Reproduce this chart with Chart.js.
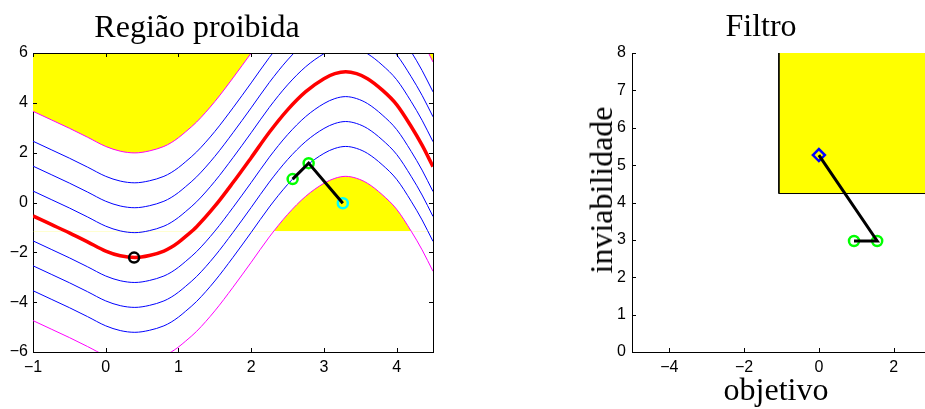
<!DOCTYPE html>
<html lang="pt-br">
<head>
<meta charset="UTF-8">
<title>Região proibida / Filtro</title>
<script src="https://cdn.jsdelivr.net/npm/chart.js"></script>
<style>
    html, body { margin: 0; padding: 0; background: #fff; overflow: hidden; }
    body { width: 925px; height: 409px; position: relative; }
    canvas { position: absolute; top: 0; }
    #esq { left: 0; }
    #dir { left: 560px; }
    .rot {
        position: absolute;
        font-family: 'Liberation Serif', 'Times New Roman', serif;
        font-size: 32px;
        line-height: 32px;
        color: #000;
        white-space: nowrap;
        transform: translateX(-50%);
    }
    #ylab { transform: translate(-50%, -50%) rotate(-90deg); }
</style>
</head>
<body>

<canvas id="esq" width="450" height="409"></canvas>
<canvas id="dir" width="380" height="409"></canvas>

<div class="rot" style="left:197px; top:10px;">Região proibida</div>
<div class="rot" style="left:761px; top:9px;">Filtro</div>
<div class="rot" style="left:776px; top:373px;">objetivo</div>
<div class="rot" id="ylab" style="left:601px; top:190px;">inviabilidade</div>

<script>
// curva central (vermelha)
const curveX = [-1.0, -0.75, -0.5, -0.25, 0.0, 0.2, 0.4, 0.6, 0.8, 0.9, 1.0, 1.1, 1.25, 1.5, 1.75,
                2.0, 2.25, 2.5, 2.75, 3.0, 3.15, 3.3, 3.45, 3.6, 3.8, 4.0, 4.2, 4.35, 4.5];
const curveY = [-0.54, -0.88, -1.22, -1.58, -1.95, -2.14, -2.21, -2.13, -1.95, -1.80, -1.60, -1.36, -0.97, -0.15, 0.80,
                1.80, 2.82, 3.72, 4.45, 4.97, 5.17, 5.25, 5.17, 4.97, 4.52, 3.93, 3.05, 2.30, 1.44];
// deslocamentos verticais das curvas azuis e das fronteiras (magenta)
const blueOffsets = [-3, -2, -1, 1, 2, 3];
const boundOffset = 4.2;
const floorLevel = -1.15;          // base da regiao amarela de baixo

// pontos da esquerda
const pathLeft = [[2.57, 0.94], [2.79, 1.58], [3.26, -0.03]];
const greenLeft = [[2.57, 0.94], [2.79, 1.58]];
const cyanLeft = [[3.26, -0.03]];
const blackLeft = [[0.39, -2.21]];

// filtro (direita)
const filterCorner = [-1.07, 4.24];
const diamondPt = [[0, 5.27]];
const greenRight = [[0.94, 2.97], [1.56, 2.97]];
const pathRight = [[0, 5.27], [1.56, 2.97], [0.94, 2.97]];
const filterXTicks = [-4, -2, 0, 2];

const pts = arr => arr.map(p => ({ x: p[0], y: p[1] }));
const shifted = off => curveX.map((x, i) => ({ x: x, y: curveY[i] + off }));

const tickFont = { family: 'Liberation Sans', size: 16 };
const fmt = v => String(v).replace('-', '\u2212');

// ticks para dentro + caixa
const inTicks = {
    id: 'inTicks',
    afterDraw(chart, args, opts) {
        const { ctx, chartArea: a, scales: { x, y } } = chart;
        const L = 4;
        ctx.save();
        ctx.strokeStyle = '#000';
        ctx.lineWidth = 1;
        ctx.beginPath();
        x.ticks.forEach(t => {
            const px = Math.round(x.getPixelForValue(t.value)) + 0.5;
            ctx.moveTo(px, a.bottom); ctx.lineTo(px, a.bottom - L);
            if (opts.box) { ctx.moveTo(px, a.top); ctx.lineTo(px, a.top + L); }
        });
        y.ticks.forEach(t => {
            const py = Math.round(y.getPixelForValue(t.value)) + 0.5;
            ctx.moveTo(a.left, py); ctx.lineTo(a.left + L, py);
            if (opts.box) { ctx.moveTo(a.right, py); ctx.lineTo(a.right - L, py); }
        });
        if (opts.box) {
            ctx.moveTo(a.left, Math.round(a.top) + 0.5); ctx.lineTo(a.right, Math.round(a.top) + 0.5);
            ctx.moveTo(Math.round(a.right) + 0.5, a.top); ctx.lineTo(Math.round(a.right) + 0.5, a.bottom);
        }
        ctx.stroke();
        ctx.restore();
    }
};

function marker(data, color, style, r) {
    return {
        data: pts(data), showLine: false, pointStyle: style,
        pointRadius: r, pointBorderColor: color, pointBackgroundColor: 'rgba(0,0,0,0)',
        pointBorderWidth: 2.5
    };
}

function curve(off, color, width, fill) {
    return {
        data: shifted(off), borderColor: color, borderWidth: width, pointRadius: 0,
        cubicInterpolationMode: 'monotone', fill: fill || false, backgroundColor: '#ffff00'
    };
}

// ----- grafico da esquerda -----
const leftSets = [
    { data: pts(pathLeft), borderColor: '#000', borderWidth: 3, pointRadius: 0 },
    marker(blackLeft, '#000', 'circle', 5),
    marker(greenLeft, '#00ff00', 'circle', 5),
    marker(cyanLeft, '#00ffff', 'circle', 5),
    curve(0, '#ff0000', 3.5)
];
blueOffsets.forEach(o => leftSets.push(curve(o, '#0000ff', 1)));
leftSets.push(curve(boundOffset, '#ff00ff', 1, 'end'));
leftSets.push(curve(-boundOffset, '#ff00ff', 1,
    { target: { value: floorLevel }, above: '#ffff00', below: 'rgba(0,0,0,0)' }));

new Chart(document.getElementById('esq'), {
    type: 'line',
    data: { datasets: leftSets },
    options: {
        responsive: false, animation: false, events: [],
        layout: { padding: { top: 53, right: 17, left: 0, bottom: 0 } },
        plugins: { legend: { display: false }, tooltip: { enabled: false },
                   filler: { drawTime: 'beforeDatasetsDraw' }, inTicks: { box: true } },
        scales: {
            x: {
                type: 'linear', min: -1, max: 4.5,
                ticks: { stepSize: 1, includeBounds: false, padding: 6, font: tickFont, color: '#000',
                         maxRotation: 0, callback: fmt },
                grid: { drawOnChartArea: false, drawTicks: false },
                border: { color: '#000', width: 1 },
                afterFit: s => { s.height = 57; }
            },
            y: {
                min: -6, max: 6,
                ticks: { stepSize: 2, includeBounds: false, padding: 5, font: tickFont, color: '#000', callback: fmt },
                grid: { drawOnChartArea: false, drawTicks: false },
                border: { color: '#000', width: 1 },
                afterFit: s => { s.width = 33; }
            }
        }
    },
    plugins: [inTicks]
});

// ----- grafico da direita -----
const rightSets = [
    { data: pts(pathRight), borderColor: '#000', borderWidth: 3, pointRadius: 0 },
    marker(diamondPt, '#0000ff', 'rectRot', 6),
    marker(greenRight, '#00ff00', 'circle', 5),
    { data: pts([[filterCorner[0], 9], filterCorner, [4, filterCorner[1]]]),
      borderColor: '#000', borderWidth: 1, pointRadius: 0, tension: 0,
      fill: 'end', backgroundColor: '#ffff00' }
];

new Chart(document.getElementById('dir'), {
    type: 'line',
    data: { datasets: rightSets },
    options: {
        responsive: false, animation: false, events: [],
        layout: { padding: { top: 53, right: 9, left: 0, bottom: 0 } },
        plugins: { legend: { display: false }, tooltip: { enabled: false },
                   filler: { drawTime: 'beforeDatasetsDraw' }, inTicks: { box: false } },
        scales: {
            x: {
                type: 'linear', min: -5, max: 3,
                afterBuildTicks: s => { s.ticks = filterXTicks.map(v => ({ value: v })); },
                ticks: { padding: 6, font: tickFont, color: '#000', maxRotation: 0, callback: fmt },
                grid: { drawOnChartArea: false, drawTicks: false },
                border: { color: '#000', width: 1 },
                afterFit: s => { s.height = 57; }
            },
            y: {
                min: 0, max: 8,
                ticks: { stepSize: 1, padding: 6, font: tickFont, color: '#000', callback: fmt },
                grid: { drawOnChartArea: false, drawTicks: false },
                border: { color: '#000', width: 1 },
                afterFit: s => { s.width = 72; }
            }
        }
    },
    plugins: [inTicks]
});
</script>
</body>
</html>
